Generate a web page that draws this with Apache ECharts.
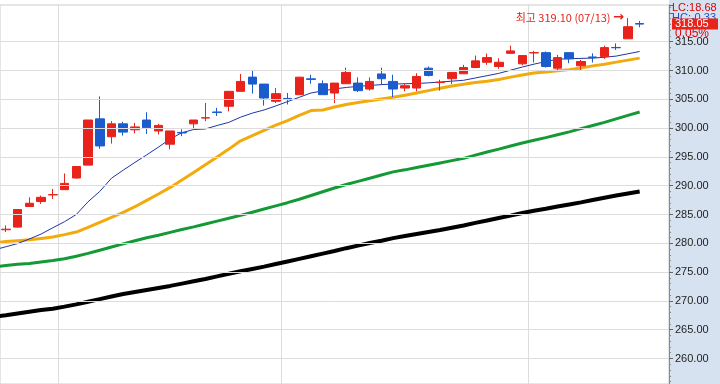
<!DOCTYPE html>
<html><head><meta charset="utf-8">
<script src="https://cdn.jsdelivr.net/npm/echarts@6/dist/echarts.min.js"></script>
<style>html,body{margin:0;padding:0;background:#fff}#c{width:720px;height:384px}</style>
</head><body><div id="c"></div>
<script>
// ---- data ----
const categories = ['04/26','04/27','04/28','04/29','04/30',
 '05/03','05/04','05/06','05/07','05/10','05/11','05/12','05/13','05/14','05/17','05/18','05/20','05/21','05/24','05/25','05/26','05/27','05/28','05/31',
 '06/01','06/02','06/04','06/07','06/08','06/09','06/10','06/11','06/14','06/15','06/16','06/17','06/18','06/21','06/22','06/23','06/24','06/25','06/28','06/29','06/30',
 '07/01','07/02','07/05','07/06','07/07','07/08','07/09','07/12','07/13','07/14','07/15','07/16'];
const opens  = [282.35,282.81,286.38,287.24,288.40,289.31,291.33,293.57,301.60,298.50,300.74,299.70,301.40,299.50,297.20,299.25,300.74,301.75,302.80,303.79,306.38,308.85,307.64,304.66,305.15,305.80,308.55,307.70,306.09,307.70,307.81,306.78,309.40,308.10,306.95,306.95,310.40,307.90,308.57,309.43,310.52,311.43,310.69,312.98,311.16,313.05,313.10,310.40,313.10,310.81,312.35,312.41,314.00,315.50,318.15];
const closes = [282.45,285.86,286.95,287.98,288.45,290.40,293.33,301.40,296.90,300.74,299.30,300.20,300.05,300.47,299.50,299.15,301.40,301.80,302.70,306.38,308.10,307.64,305.22,305.98,305.05,308.84,308.45,305.80,307.81,309.66,306.50,308.10,308.57,306.78,307.36,308.97,309.14,307.95,309.66,310.52,311.67,312.24,311.43,313.40,312.59,313.10,310.69,312.24,312.02,311.55,312.25,313.97,313.95,317.60,318.05];
const lows   = [281.95,282.70,286.38,286.84,287.71,289.31,291.20,293.57,296.40,297.30,298.70,299.10,299.00,298.90,296.30,298.60,299.80,301.20,302.10,302.90,306.38,305.98,303.90,304.36,304.10,305.80,307.70,305.80,304.36,307.70,306.26,306.50,307.50,305.40,306.40,306.38,308.97,306.50,307.64,309.43,310.40,310.98,310.29,312.93,310.90,311.38,310.50,310.00,311.26,310.00,311.38,312.02,313.57,315.50,317.50];
const highs  = [283.10,285.90,287.98,288.28,289.43,292.12,293.33,301.40,305.50,301.20,301.10,300.90,302.76,300.74,299.50,299.80,301.40,304.36,303.50,306.40,309.40,310.00,307.64,306.95,306.10,308.90,309.26,308.28,307.81,310.50,308.80,308.80,310.50,309.26,307.80,309.53,310.70,308.40,309.66,310.98,312.59,312.93,312.12,314.30,312.60,313.40,313.30,312.70,313.10,311.84,312.98,314.31,314.70,319.10,318.60];
// moving averages, first value is the day before the first candle
const ma5   = [278.85,279.40,279.95,280.75,281.60,282.70,283.75,285.00,287.20,289.00,291.30,292.70,294.05,295.35,296.70,298.10,299.20,299.75,299.85,300.45,301.00,301.90,302.60,303.15,303.85,304.60,305.35,306.10,306.45,306.80,307.05,307.25,307.40,307.55,307.65,307.70,307.75,307.85,308.00,308.15,308.30,308.70,309.10,309.50,310.05,310.60,311.10,311.55,311.95,312.05,312.10,312.15,312.30,312.50,312.90,313.30];
const ma20  = [280.10,280.30,280.45,280.60,280.85,281.10,281.50,281.95,282.75,283.65,284.50,285.35,286.35,287.45,288.55,289.70,291.00,292.30,293.65,295.00,296.35,297.80,298.70,299.60,300.50,301.30,302.20,303.05,303.15,303.65,304.10,304.45,304.75,305.05,305.35,305.70,306.10,306.50,306.90,307.30,307.60,307.90,308.15,308.45,308.85,309.20,309.55,309.75,309.95,310.15,310.45,310.80,311.10,311.45,311.80,312.15];
const ma60  = [275.90,276.15,276.35,276.50,276.75,277.00,277.30,277.75,278.25,278.80,279.35,279.90,280.45,280.95,281.40,281.90,282.40,282.85,283.35,283.85,284.35,284.85,285.40,285.95,286.50,287.05,287.65,288.30,288.95,289.60,290.20,290.75,291.30,291.85,292.40,292.75,293.15,293.55,293.95,294.35,294.75,295.30,295.85,296.35,296.90,297.40,297.90,298.35,298.85,299.35,299.90,300.45,301.00,301.60,302.20,302.80];
const ma120 = [267.25,267.50,267.80,268.10,268.40,268.65,269.00,269.40,269.85,270.30,270.75,271.20,271.55,271.90,272.25,272.60,273.00,273.40,273.80,274.25,274.70,275.15,275.55,275.95,276.40,276.85,277.30,277.75,278.20,278.65,279.15,279.60,280.05,280.45,280.90,281.25,281.60,281.95,282.30,282.70,283.10,283.55,283.95,284.40,284.80,285.25,285.65,286.00,286.40,286.75,287.10,287.50,287.90,288.30,288.65,289.00];
const gridValues = [260, 265, 270, 275, 280, 285, 290, 295, 300, 305, 310, 315];
const yMin = 255.57, yMax = 321.37;
const highIndex = 53, highValue = 319.10, highText = '최고 319.10 (07/13)';
const lcText = 'LC:18.68', hcText = 'HC:-0.33', changeText = '0.05%';
const monthStarts = [5, 24, 45];

const UP = '#e8231b', DOWN = '#1b5ccc';
const candleData = opens.map((o, i) => [o, closes[i], lows[i], highs[i]]);
const maLine = arr => arr.map((v, k) => [k - 1, v]);

const chart = echarts.init(document.getElementById('c'), null, {renderer: 'canvas'});
const lineS = (name, arr, color, w) => ({
  name, type: 'line', xAxisIndex: 1, data: maLine(arr), symbol: 'none', smooth: false,
  lineStyle: {color, width: w}, z: 1, silent: true, animation: false
});
chart.setOption({
  animation: false,
  backgroundColor: '#fff',
  grid: {left: 0, right: 51, top: 5, bottom: 0, containLabel: false, show: true, borderColor: '#cccccc', borderWidth: 1, backgroundColor: '#fff'},
  xAxis: [
    {type: 'category', data: categories, boundaryGap: true,
     axisLine: {show: false}, axisTick: {show: false}, axisLabel: {show: false},
     splitLine: {show: true, interval: (i) => monthStarts.indexOf(i) >= 0, lineStyle: {color: '#dcdcdc', width: 1}}},
    {type: 'value', min: -0.5, max: categories.length - 0.5, show: false}
  ],
  yAxis: {type: 'value', position: 'right', min: yMin, max: yMax, splitNumber: 13,
    axisLine: {show: true, onZero: false, lineStyle: {color: '#8a8a8a'}},
    axisTick: {show: true, length: 4, lineStyle: {color: '#666'}},
    minorTick: {show: true, splitNumber: 5, length: 2, lineStyle: {color: '#888'}},
    axisLabel: {formatter: v => (gridValues.indexOf(Math.round(v * 100) / 100) >= 0) ? v.toFixed(2) : '',
      color: '#222', fontSize: 11, fontFamily: 'Liberation Sans', margin: 6},
    splitLine: {show: false}},
  series: [
    {type: 'line', xAxisIndex: 1, data: [], z: 0, silent: true,
     markLine: {silent: true, symbol: 'none', animation: false, label: {show: false},
       lineStyle: {color: '#dcdcdc', width: 1, type: 'solid'},
       data: gridValues.map(v => ({yAxis: v}))}},
    lineS('MA120', ma120, '#000000', 4),
    lineS('MA60', ma60, '#139a36', 3),
    lineS('MA20', ma20, '#f2aa0c', 3),
    lineS('MA5', ma5, '#1f35a5', 1),
    {type: 'candlestick', data: candleData, barWidth: 9, z: 3,
     itemStyle: {color: UP, color0: DOWN, borderColor: UP, borderColor0: DOWN, borderWidth: 1},
     markPoint: {symbol: 'circle', symbolSize: 0, animation: false,
       data: [{coord: [highIndex, highValue]}],
       label: {show: true, position: 'left', distance: 4, formatter: highText + ' {a|→}',
         color: UP, fontSize: 11, fontFamily: 'Noto Sans CJK KR',
         rich: {a: {color: UP, fontSize: 13, fontWeight: 'bold', fontFamily: 'DejaVu Sans'}}}}}
  ]
});

const py = chart.convertToPixel({yAxisIndex: 0}, closes[closes.length - 1]);
chart.setOption({graphic: [
  {type: 'rect', z: -10, shape: {x: 669, y: 0, width: 51, height: 384}, style: {fill: '#d7e2f0'}},
  {type: 'text', z: 10, left: 672, top: 2, style: {text: lcText, fill: '#e00000', font: '11px Liberation Sans'}},
  {type: 'text', z: 10, left: 672, top: 12, style: {text: hcText, fill: '#1b4fd0', font: '11px Liberation Sans'}},
  {type: 'rect', z: 11, shape: {x: 672, y: py - 5.5, width: 46, height: 11}, style: {fill: UP}},
  {type: 'text', z: 12, left: 675, top: py - 6, style: {text: closes[closes.length - 1].toFixed(2), fill: '#fff', font: '11px Liberation Sans'}},
  {type: 'text', z: 10, left: 675, top: py + 4, style: {text: changeText, fill: '#e00000', font: '12px Liberation Sans'}}
]});
</script></body></html>
